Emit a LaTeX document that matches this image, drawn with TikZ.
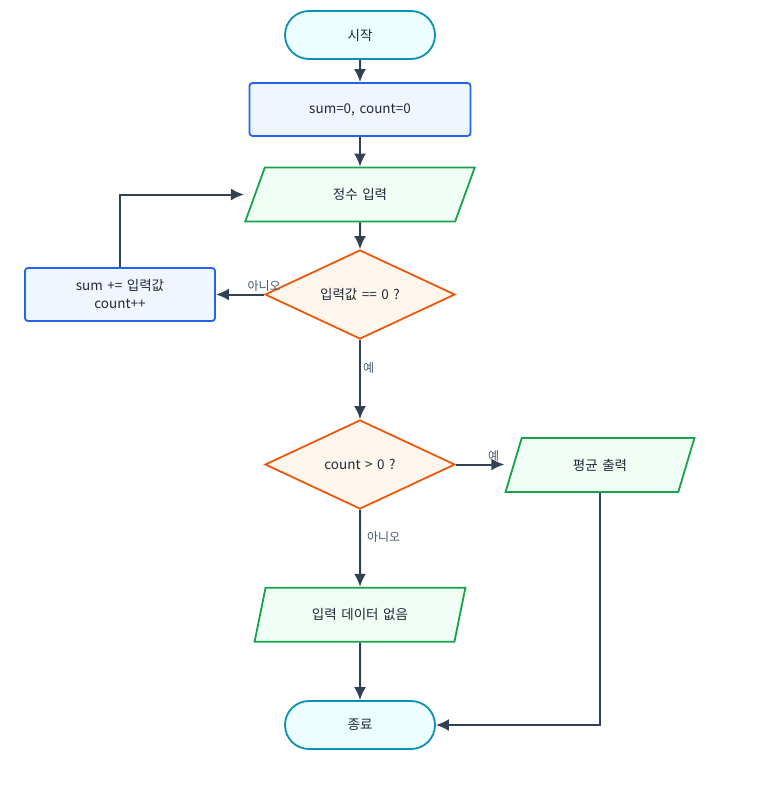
\documentclass[tikz,border=0pt]{standalone}
\usepackage{fontspec}
\setmainfont[WordSpace=1.5]{Noto Sans CJK KR}
\usetikzlibrary{positioning}
\usetikzlibrary{shapes.geometric, shapes.misc, arrows.meta}

\definecolor{termline}{HTML}{0891B2}
\definecolor{termfill}{HTML}{ECFEFF}
\definecolor{procline}{HTML}{2563EB}
\definecolor{procfill}{HTML}{EFF6FF}
\definecolor{ioline}{HTML}{16A34A}
\definecolor{iofill}{HTML}{F0FDF4}
\definecolor{decline}{HTML}{EA580C}
\definecolor{decfill}{HTML}{FFF7ED}
\definecolor{flowcol}{HTML}{334155}
\definecolor{textcol}{HTML}{1F2937}
\definecolor{labelcol}{HTML}{475569}

\tikzset{
  every node/.style={font=\fontsize{13.5}{18}\selectfont, text=textcol},
  terminal/.style={rounded rectangle, draw=termline, fill=termfill, line width=1.8pt, minimum width=150pt, minimum height=48pt, inner sep=0pt},
  process/.style={rectangle, rounded corners=3pt, draw=procline, fill=procfill, line width=1.8pt, minimum height=53pt, inner sep=0pt, align=center},
  io/.style={trapezium, trapezium left angle=65.5, trapezium right angle=114.5, trapezium stretches=true, draw=ioline, fill=iofill, line width=1.8pt, minimum height=54pt, inner sep=0pt},
  decision/.style={diamond, aspect=2.1, draw=decline, fill=decfill, line width=1.8pt, minimum width=190pt, minimum height=89pt, inner sep=0pt},
  flow/.style={-{Latex[length=13pt,width=12pt]}, line width=2pt, draw=flowcol},
  branch/.style={font=\fontsize{12}{14}\selectfont, text=labelcol, inner sep=2pt}
}

\begin{document}
\begin{tikzpicture}[x=1pt, y=-1pt]
    \useasboundingbox (0,0) rectangle (760,789);
    % 도형
    \node[terminal] (start) at (360,35) {시작};
    \node[process, minimum width=221pt] (init) at (360,109.5) {sum=0, count=0};
    \node[io, minimum width=231pt] (input) at (360,194.5) {정수 입력};
    \node[decision] (iszero) at (360,294.5) {입력값 == 0 ?};
    \node[process, minimum width=190pt] (accum) at (120,294.5) {sum += 입력값\\count++};
    \node[decision] (haspos) at (360,464.5) {count > 0 ?};
    \node[io, minimum width=190pt] (avg) at (600,465) {평균 출력};
    \node[io, minimum width=211pt] (nodata) at (360,614.7) {입력 데이터 없음};
    \node[terminal] (stop) at (360,725) {종료};
    % 연결선
    \draw[flow] (start) -- (init);
    \draw[flow] (init) -- (input);
    \draw[flow] (input) -- (iszero);
    \draw[flow] (iszero.west) -- (accum.east) node[branch, pos=0, above] {아니오};
    \draw[flow] (accum.north) |- (input.bottom left corner |- input.center); % 반복
    \draw[flow] (iszero.south) -- (haspos.north) node[branch, pos=0.35, right] {예};
    \draw[flow] (haspos.east) -- (avg.bottom left corner |- haspos.east) node[branch, pos=0.78, above] {예};
    \draw[flow] (haspos.south) -- (nodata.north) node[branch, pos=0.35, right=4pt] {아니오};
    \draw[flow] (nodata) -- (stop);
    \draw[flow] (avg.south) |- (stop.east);
\end{tikzpicture}
\end{document}
